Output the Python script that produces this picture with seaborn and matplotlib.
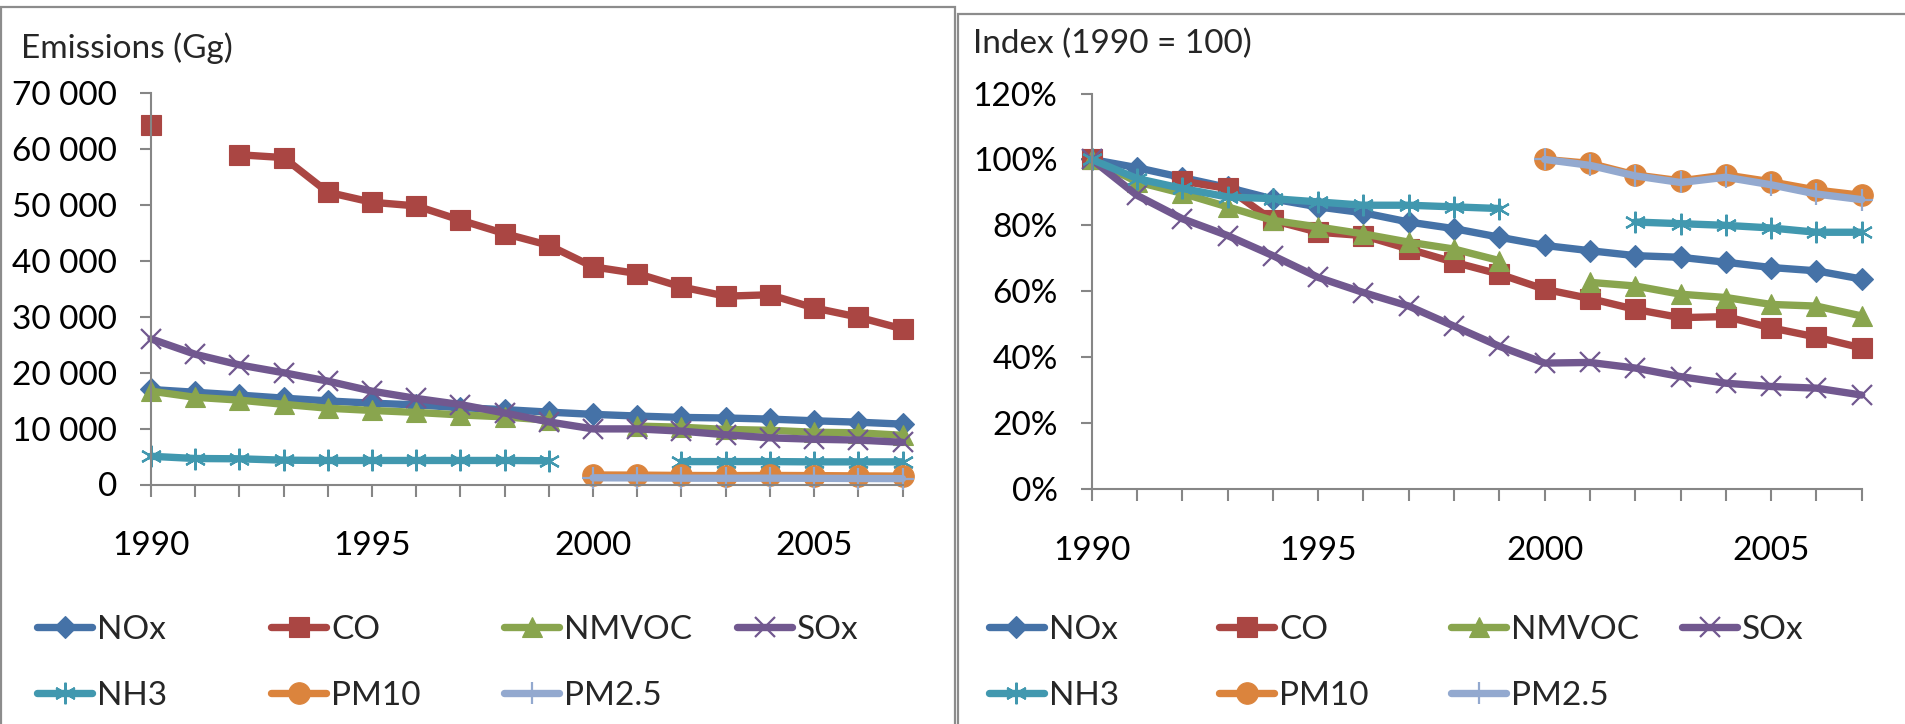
import numpy as np
import pandas as pd
import matplotlib
matplotlib.use("Agg")
import matplotlib.pyplot as plt
from matplotlib.patches import Rectangle
from matplotlib.ticker import FuncFormatter
import seaborn as sns

# ---------------------------------------------------------------------
# data
# ---------------------------------------------------------------------
nan = np.nan
years = list(range(1990, 2008))
series_names = ["NOx", "CO", "NMVOC", "SOx", "NH3", "PM10", "PM2.5"]

# emissions in Gg
nox_gg = [17000, 16500, 16000, 15450, 14950, 14550, 14250, 13750, 13400, 12950,
          12550, 12250, 12000, 11900, 11700, 11400, 11150, 10800]
co_gg = [64400, nan, 59000, 58500, 52300, 50500, 49850, 47300, 44900, 42800,
         38950, 37750, 35350, 33700, 33950, 31600, 29950, 27850]
nmvoc_gg = [16700, 15600, 15100, 14350, 13650, 13250, 12900, 12450, 12100, 11500,
            nan, 10450, 10250, 9850, 9700, 9350, 9250, 8800]
sox_gg = [26060, 23300, 21400, 20000, 18500, 16700, 15400, 14300, 12800, 11200,
          9950, 9950, 9550, 8900, 8350, 8100, 7950, 7550]
nh3_gg = [5050, 4650, 4600, 4350, 4300, 4300, 4300, 4300, 4300, 4250,
          nan, nan, 4100, 4100, 4100, 4050, 4050, 4050]
pm10_gg = [nan] * 10 + [1700, 1680, 1620, 1590, 1620, 1590, 1540, 1500]
pm25_gg = [nan] * 10 + [1200, 1180, 1130, 1120, 1130, 1110, 1070, 1050]

# index, percent
nox_ix = [100, 97.5, 94.5, 91.5, 88, 85.6, 83.8, 81, 79, 76.4,
          73.9, 72.3, 70.8, 70.3, 68.8, 67.2, 66.2, 63.7]
co_ix = [100, nan, 93.4, 91.2, 81.5, 77.9, 76.9, 72.8, 68.8, 65.2,
         60.6, 57.8, 54.5, 52.0, 52.3, 48.9, 46.1, 42.8]
nmvoc_ix = [100, 93.2, 89.7, 85.6, 81.5, 79.5, 77.4, 74.9, 72.8, 69.3,
            nan, 62.7, 61.6, 59.1, 58.1, 56.0, 55.5, 52.5]
sox_ix = [100, 89.1, 82.0, 76.9, 70.8, 64.2, 59.6, 55.5, 49.4, 43.3,
          38.2, 38.4, 36.7, 34.1, 32.1, 31.1, 30.6, 28.5]
nh3_ix = [100, 94.2, 91.2, 88.6, 88.1, 87.1, 86.1, 86.1, 85.6, 85.1,
          nan, nan, 81.0, 80.5, 80.0, 79.2, 77.9, 77.9]
pm10_ix = [nan] * 10 + [100, 98.8, 95.3, 93.5, 95.3, 93.2, 90.7, 89.1]
pm25_ix = [nan] * 10 + [100, 98.2, 95.0, 93.0, 94.6, 92.3, 89.5, 87.8]

gg_values = dict(zip(series_names, [nox_gg, co_gg, nmvoc_gg, sox_gg, nh3_gg, pm10_gg, pm25_gg]))
ix_values = dict(zip(series_names, [nox_ix, co_ix, nmvoc_ix, sox_ix, nh3_ix, pm10_ix, pm25_ix]))

# ---------------------------------------------------------------------
# styles
# ---------------------------------------------------------------------
colors = {"NOx": "#4572A7", "CO": "#AA4643", "NMVOC": "#89A54E", "SOx": "#71588F",
          "NH3": "#4198AF", "PM10": "#DB843D", "PM2.5": "#93A9CF"}
markers = {"NOx": "D", "CO": "s", "NMVOC": "^", "SOx": "x",
           "NH3": (6, 2, 0), "PM10": "o", "PM2.5": "+"}
msizes = {"NOx": 11.5, "CO": 15, "NMVOC": 15, "SOx": 14.5, "NH3": 15.5, "PM10": 15.5, "PM2.5": 15.5}
mwidths = {"NOx": 0.8, "CO": 0.8, "NMVOC": 0.8, "SOx": 1.6, "NH3": 1.6, "PM10": 0.8, "PM2.5": 1.6}

W, H = 1905, 724
GRAY = "#868686"
FS = 24

sns.set_theme(style="white")
plt.rcParams['font.family'] = ['Lato', 'DejaVu Sans']

fig = plt.figure(figsize=(W / 100, H / 100), dpi=100)
fig.patch.set_facecolor("white")

# panel frames
fig.patches.append(Rectangle((1 / W, -0.1), 954 / W, 1.1 - 7 / H, transform=fig.transFigure,
                             fill=False, ec="#8c8c8c", lw=1.6))
fig.patches.append(Rectangle((958 / W, -0.1), 1.0, 1.1 - 14 / H, transform=fig.transFigure,
                             fill=False, ec="#8c8c8c", lw=1.6))

ax_gg = fig.add_axes([151 / W, 1 - 484.5 / H, (902.5 - 151) / W, (484.5 - 93.3) / H])
ax_ix = fig.add_axes([1091.7 / W, 1 - 489 / H, (1861.7 - 1091.7) / W, (489 - 93.5) / H])


def draw_series(ax, values):
    handles = {}
    for name in series_names:
        df = pd.DataFrame({"year": years, "value": values[name]})
        # split at missing years so the line breaks there
        df["seg"] = df["value"].isna().cumsum()
        df = df.dropna()
        sns.lineplot(data=df, x="year", y="value", units="seg", estimator=None, ax=ax,
                     color=colors[name], marker=markers[name], markersize=msizes[name],
                     markeredgecolor=colors[name], markeredgewidth=mwidths[name],
                     linewidth=5.3, label=name, clip_on=False)
        handles[name] = ax.get_lines()[-1]
    if ax.get_legend() is not None:
        ax.get_legend().remove()
    return handles


def style_axis(ax, ymax, step, fmt):
    ax.set_xlim(1990, 2007)
    ax.set_ylim(0, ymax)
    ax.set_xticks(years)
    ax.set_xticklabels([str(y) if y % 5 == 0 else "" for y in years])
    ax.set_yticks(np.arange(0, ymax + 1, step))
    ax.yaxis.set_major_formatter(FuncFormatter(fmt))
    ax.set_xlabel("")
    ax.set_ylabel("")
    sns.despine(ax=ax)
    for sp in ["left", "bottom"]:
        ax.spines[sp].set_color(GRAY)
        ax.spines[sp].set_linewidth(1.5)
    ax.tick_params(axis="x", length=8.6, width=1.5, color=GRAY, pad=25, labelsize=FS, labelcolor="black")
    ax.tick_params(axis="y", length=8, width=1.5, color=GRAY, pad=16.5, labelsize=FS, labelcolor="black")
    ax.tick_params(bottom=True, left=True)
    ax.set_facecolor("none")


h_gg = draw_series(ax_gg, gg_values)
h_ix = draw_series(ax_ix, ix_values)

style_axis(ax_gg, 70000, 10000, lambda v, p: f"{v:,.0f}".replace(",", " "))
style_axis(ax_ix, 120, 20, lambda v, p: f"{v:.0f}%")

fig.text(21 / W, 1 - 48 / H, "Emissions (Gg)", fontsize=FS, ha="left", va="center")
fig.text(973 / W, 1 - 44 / H, "Index (1990 = 100)", fontsize=FS, ha="left", va="center")

# legends, Excel-style rows of four
row_y = [630, 696]
left_cols = [37, 271, 504, 737]
right_cols = [989, 1219, 1451, 1682]
for handles, cols in [(h_gg, left_cols), (h_ix, right_cols)]:
    for i, name in enumerate(series_names):
        x0 = cols[i % 4]
        y0 = row_y[i // 4]
        leg = fig.legend([handles[name]], [name], loc="center left",
                         bbox_to_anchor=(x0 / W, 1 - y0 / H), frameon=False,
                         fontsize=FS, handlelength=1.65, handletextpad=0.15,
                         borderpad=0, borderaxespad=0, numpoints=1)

fig.savefig("out.png", dpi=100, facecolor="white")
